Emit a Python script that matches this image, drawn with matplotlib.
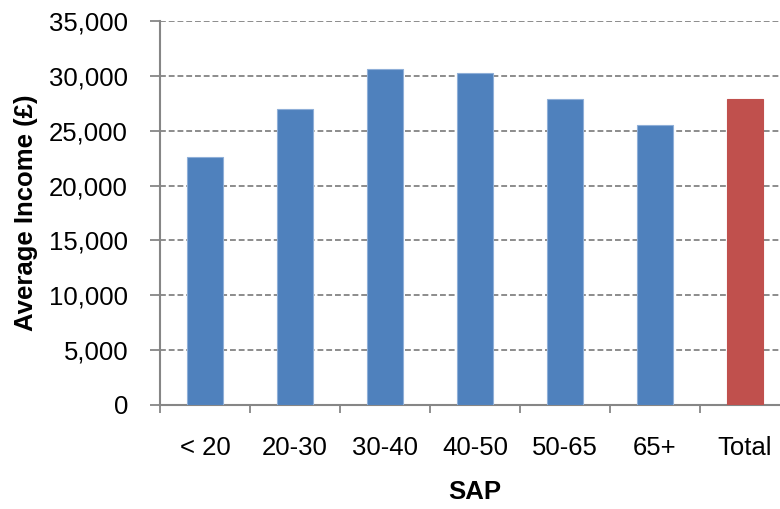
import matplotlib
matplotlib.use("Agg")
import matplotlib.pyplot as plt
from matplotlib.ticker import FuncFormatter

categories = ["< 20", "20-30", "30-40", "40-50", "50-65", "65+", "Total"]
values = [22600, 26950, 30600, 30230, 27860, 25490, 27890]
bar_colors = ["#4F81BD"] * 6 + ["#C0504D"]
edge_colors = ["#8FAFD8"] * 6 + ["#C0504D"]
y_ticks = [0, 5000, 10000, 15000, 20000, 25000, 30000, 35000]

plt.rcParams['font.family'] = ['Liberation Sans', 'DejaVu Sans']
FS = 18.5

fig = plt.figure(figsize=(7.8, 5.09), dpi=100)
W, H = 780, 509
left, right, top, bottom = 160, 790, 21, 405
ax = fig.add_axes([left / W, 1 - bottom / H, (right - left) / W, (bottom - top) / H])

x = list(range(len(categories)))
ax.bar(x, values, width=0.4, color=bar_colors, edgecolor=edge_colors, linewidth=0.8, zorder=3)

ax.set_xlim(-0.5, len(categories) - 0.5)
ax.set_ylim(0, 35000)
ax.set_yticks(y_ticks)
ax.yaxis.set_major_formatter(FuncFormatter(lambda v, p: f"{int(v):,}"))
ax.grid(axis='y', color='#8C8C8C', linestyle=(0, (3, 1.5)), linewidth=1.4, zorder=0)
ax.set_axisbelow(True)

ax.set_xticks([i + 0.5 for i in range(-1, len(categories))], minor=False)
ax.set_xticklabels([])
ax.set_xticks(x, minor=True)
ax.set_xticklabels(categories, minor=True, fontsize=FS)
ax.tick_params(axis='x', which='minor', length=0, pad=22)
ax.tick_params(axis='x', which='major', length=6, color='#868686', width=1.3, direction='out')
ax.tick_params(axis='y', length=7, color='#868686', width=1.3, labelsize=FS, pad=16)

for s in ['top', 'right']:
    ax.spines[s].set_visible(False)
for s in ['left', 'bottom']:
    ax.spines[s].set_color('#868686')
    ax.spines[s].set_linewidth(1.5)

ax.set_ylabel("Average Income (£)", fontsize=FS, fontweight='bold', labelpad=8)
ax.set_xlabel("SAP", fontsize=FS, fontweight='bold', labelpad=15)

fig.savefig("out.png", dpi=100)
